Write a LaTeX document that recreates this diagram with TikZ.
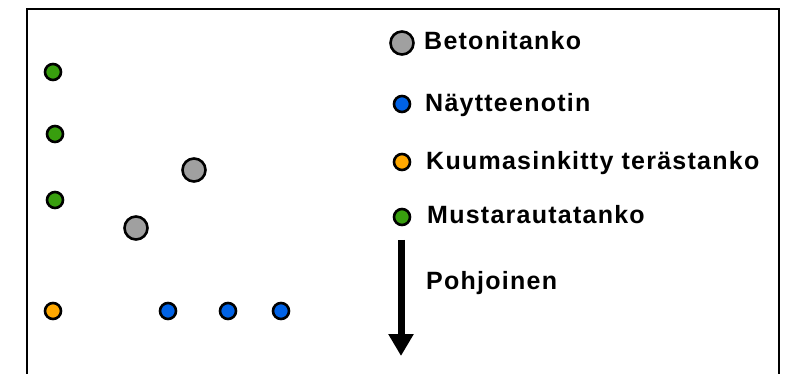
\documentclass[tikz,border=0pt]{standalone}
\usepackage{fontspec}
\newfontfamily\legendfont[LetterSpace=5]{Liberation Sans}
\usetikzlibrary{arrows.meta}
\definecolor{betoni}{RGB}{160,160,160}
\definecolor{nayte}{RGB}{0,98,230}
\definecolor{kuuma}{RGB}{255,168,0}
\definecolor{musta}{RGB}{56,158,14}

\begin{document}
\begin{tikzpicture}[x=1pt,y=-1pt,>={Triangle[width=24pt,length=22pt]},
  tanko/.style={circle,draw,line width=2.6pt,inner sep=0pt,minimum size=16pt},
  iso/.style={tanko,minimum size=23pt},
  lbl/.style={font=\legendfont\bfseries\fontsize{25}{30}\selectfont,anchor=base west,inner sep=0pt}]
  \useasboundingbox (0,0) rectangle (793,374);
  \draw[line width=2.8pt] (27,374) -- (27,9) -- (779,9) -- (779,374);

  % tangot
  \node[tanko,fill=musta]  (m1) at (53,72)  {};
  \node[tanko,fill=musta]  (m2) at (55,134) {};
  \node[tanko,fill=musta]  (m3) at (55,200) {};
  \node[iso,fill=betoni]   (b1) at (194,170){};
  \node[iso,fill=betoni]   (b2) at (136,228){};
  \node[tanko,fill=kuuma]  (k1) at (53,311) {};
  \node[tanko,fill=nayte]  (n1) at (168,311){};
  \node[tanko,fill=nayte]  (n2) at (228,311){};
  \node[tanko,fill=nayte]  (n3) at (281,311){};

  % selite
  \node[iso,fill=betoni]   (lb) at (402,43) {};
  \node[tanko,fill=nayte]  (ln) at (402,104){};
  \node[tanko,fill=kuuma]  (lk) at (402,162){};
  \node[tanko,fill=musta]  (lm) at (402,217){};
  \node[lbl] (tb) at (424,50)  {Betonitanko};
  \node[lbl] (tn) at (425,112) {Näytteenotin};
  \node[lbl] (tk) at (426,170) {Kuumasinkitty terästanko};
  \node[lbl] (tm) at (427,224) {Mustarautatanko};

  \coordinate (N1) at (401,240);
  \coordinate (N2) at (401,356);
  \draw[->,line width=7pt] (N1) -- (N2);
  \node[lbl] (tp) at (426,290) {Pohjoinen};
\end{tikzpicture}
\end{document}
